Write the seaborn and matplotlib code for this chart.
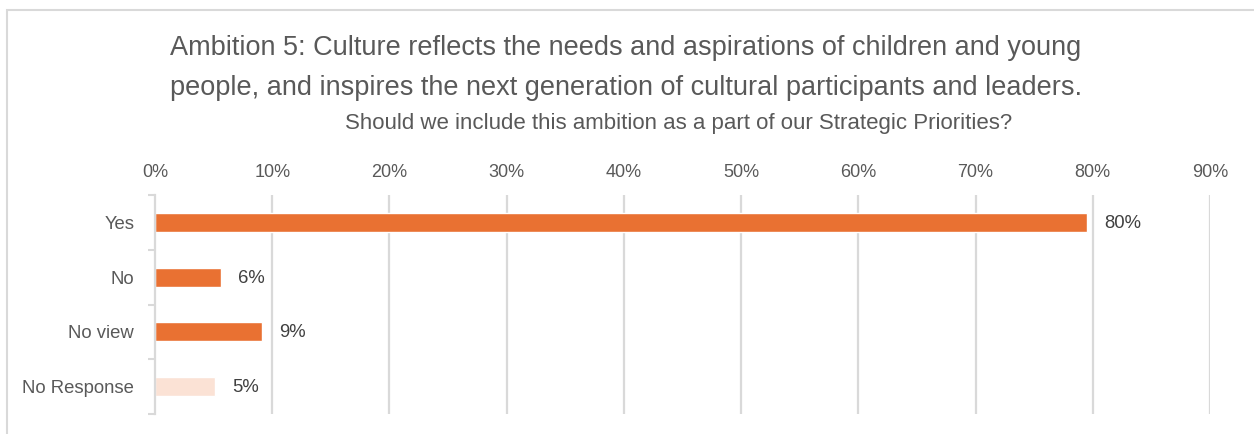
import matplotlib
matplotlib.use("Agg")
import matplotlib.pyplot as plt
import matplotlib.patches as mpatches
import seaborn as sns
import pandas as pd

# Survey responses
categories = ["Yes", "No", "No view", "No Response"]
shares = [0.795, 0.056, 0.091, 0.051]
bar_colors = ["#E97132", "#E97132", "#E97132", "#FBE2D5"]
tick_values = [0.0, 0.1, 0.2, 0.3, 0.4, 0.5, 0.6, 0.7, 0.8, 0.9]
tick_labels = [f"{int(round(v * 100))}%" for v in tick_values]

title = ("Ambition 5: Culture reflects the needs and aspirations of children and young\n"
         "people, and inspires the next generation of cultural participants and leaders.")
subtitle = "Should we include this ambition as a part of our Strategic Priorities?"

sns.set_theme(style="white")
plt.rcParams["font.family"] = ["Liberation Sans", "DejaVu Sans"]

text_color = "#595959"
grid_color = "#D9D9D9"

df = pd.DataFrame({"category": categories, "share": shares})

fig = plt.figure(figsize=(12.54, 4.34), dpi=100)
ax = fig.add_axes([155 / 1254, 1 - 414 / 434, (1210 - 155) / 1254, (414 - 195) / 434])

sns.barplot(data=df, x="share", y="category", hue="category",
            palette=dict(zip(categories, bar_colors)), legend=False,
            saturation=1, width=0.35, ax=ax, orient="h")

ax.set_xlim(0, 0.9)
ax.set_ylim(len(categories) - 0.5, -0.5)
ax.set_xticks(tick_values)
ax.set_xticklabels(tick_labels, fontsize=13, color=text_color)
ax.xaxis.tick_top()
ax.tick_params(axis="x", length=0, pad=10)
ax.set_xlabel("")
ax.set_ylabel("")

# Category labels and boundary ticks on the value axis
ax.set_yticks(range(len(categories)))
ax.set_yticklabels(categories, fontsize=13.3, color=text_color)
ax.set_yticks([i - 0.5 for i in range(len(categories) + 1)], minor=True)
ax.tick_params(axis="y", which="major", length=0, pad=15)
ax.tick_params(axis="y", which="minor", length=5, width=1.5, color=grid_color, left=True)

for x in tick_values[1:]:
    ax.axvline(x, color=grid_color, lw=1.6, zorder=0)

for s in ["top", "right", "bottom"]:
    ax.spines[s].set_visible(False)
ax.spines["left"].set_color(grid_color)
ax.spines["left"].set_linewidth(1.6)

# Value labels
for i, v in enumerate(shares):
    ax.text(v + 0.015, i + 0.02, f"{v:.0%}", va="center", ha="left", fontsize=13.3,
            color="#404040")

fig.text(0.499, 1 - 68 / 434, title, ha="center", va="center", fontsize=19.5,
         color=text_color, linespacing=1.68)
fig.text(0.541, 1 - 123 / 434, subtitle, ha="center", va="center", fontsize=16,
         color=text_color)

# Chart frame
fig.patches.append(mpatches.Rectangle((7 / 1254, -0.05), 1.1, 1 - 10 / 434 + 0.05,
                                      transform=fig.transFigure, fill=False,
                                      edgecolor=grid_color, lw=1.5))

fig.savefig("out.png", dpi=100)
